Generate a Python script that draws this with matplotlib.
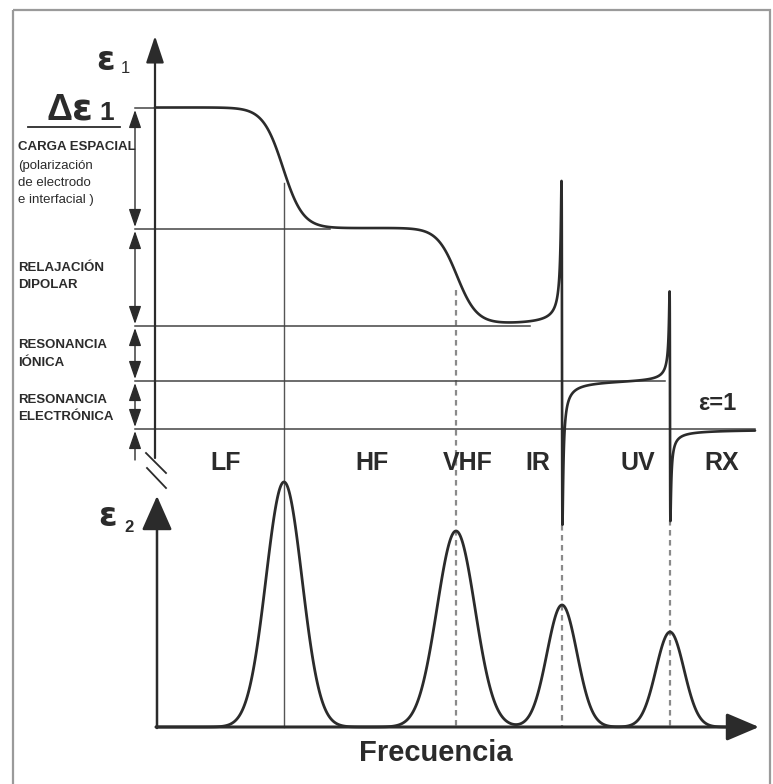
import numpy as np
import matplotlib
matplotlib.use("Agg")
import matplotlib.pyplot as plt
from matplotlib import font_manager
from matplotlib.patches import Rectangle

plt.rcParams["path.simplify"] = False

# --- diagram values (y measured downward, like the drawing) ---
levels = [108, 229, 326, 381, 429]          # eps1 plateaus, last one is eps=1
relax_x = [283, 457]                        # space charge / dipolar relaxation centres
relax_w = [20, 20]
reso_x = [562, 670]                         # ionic / electronic resonances
reso_s = [144, 80]
reso_g = [0.456, 0.39]
guide_end = [155, 330, 530, 665, 755]       # where the plateau guide lines stop

peak_x = [284, 456, 562, 670]               # eps2 loss peaks
peak_h = [245, 196, 122, 95]
peak_w = [18, 19, 15, 14]
drop_top = [183, 290, 525, 520]
drop_style = ["-", "--", "--", "--"]

bands = ["LF", "HF", "VHF", "IR", "UV", "RX"]
band_x = [226, 372, 468, 538, 638, 722]

left_labels = [
    ("CARGA ESPACIAL", 147, "bold"), ("(polarización", 166, "normal"),
    ("de electrodo", 183, "normal"), ("e interfacial )", 200, "normal"),
    ("RELAJACIÓN", 268, "bold"), ("DIPOLAR", 285, "bold"),
    ("RESONANCIA", 345, "bold"), ("IÓNICA", 363, "bold"),
    ("RESONANCIA", 400, "bold"), ("ELECTRÓNICA", 417, "bold"),
]

names = {f.name for f in font_manager.fontManager.ttflist}
narrow = "Liberation Sans Narrow" if "Liberation Sans Narrow" in names else "Liberation Sans"
FAM = ["Liberation Sans", "DejaVu Sans"]
NFAM = [narrow, "Liberation Sans", "DejaVu Sans"]
GFAM = ["DejaVu Sans"]
INK = "#2b2b2b"

fig = plt.figure(figsize=(7.73, 7.84), dpi=100)
ax = fig.add_axes([0, 0, 1, 1])
ax.set_xlim(0, 773)
ax.set_ylim(784, 0)
ax.axis("off")

ax.add_patch(Rectangle((13, 10), 757, 785, fill=False, ec="#9a9a9a", lw=1.6))

# --- eps1 curve ---
x = np.linspace(155, 755, 60001)
y = np.full_like(x, levels[0], dtype=float)
for i, (c, w) in enumerate(zip(relax_x, relax_w)):
    y += (levels[i + 1] - levels[i]) * 0.5 * (1 + np.tanh((x - c) / w))
for j, (c, s, g) in enumerate(zip(reso_x, reso_s, reso_g)):
    step = levels[j + 3] - levels[j + 2]
    y += step * (0.5 + np.arctan((x - c) / g) / np.pi)
    y += s * (x - c) / ((x - c) ** 2 + g ** 2)
ax.plot(x, y, color=INK, lw=1.9, solid_capstyle="round", zorder=3)

for lv, xe in zip(levels, guide_end):
    ax.plot([135, xe], [lv, lv], color="#444444", lw=1.1, zorder=2)

# eps1 axis with break marks
ax.annotate("", xy=(155, 36), xytext=(155, 458),
            arrowprops=dict(arrowstyle="-|>,head_length=1.65,head_width=0.55",
                            mutation_scale=10, color=INK, lw=1.6,
                            shrinkA=0, shrinkB=0))
ax.plot([146, 166], [453, 473], color=INK, lw=1.3)
ax.plot([147, 166], [468, 488], color=INK, lw=1.3)

# double arrows for each contribution
for a, b in zip(levels[:-1], levels[1:]):
    ax.annotate("", xy=(135, a + 2), xytext=(135, b - 2),
                arrowprops=dict(arrowstyle="<|-|>,head_length=1.1,head_width=0.38",
                                mutation_scale=10, color=INK, lw=1.0,
                                shrinkA=0, shrinkB=0))
ax.annotate("", xy=(135, levels[-1] + 2), xytext=(135, 460),
            arrowprops=dict(arrowstyle="-|>,head_length=1.1,head_width=0.38",
                            mutation_scale=10, color=INK, lw=1.0,
                            shrinkA=0, shrinkB=0))

ax.text(96, 60, "ε", fontsize=24, fontweight="bold", family=GFAM, color=INK,
        ha="left", va="center")
ax.text(121, 68, "1", fontsize=12, family=FAM, color=INK, ha="left", va="center")
ax.text(46, 120, "Δ", fontsize=26, fontweight="bold", family=FAM, color=INK,
        ha="left", va="baseline")
ax.text(72, 120, "ε", fontsize=27, fontweight="bold", family=GFAM, color=INK,
        ha="left", va="baseline")
ax.text(99, 120, "1", fontsize=19, fontweight="bold", family=FAM, color=INK,
        ha="left", va="baseline")
ax.plot([28, 120], [127, 127], color=INK, lw=1.3)

for txt, ty, wt in left_labels:
    ax.text(18, ty, txt, fontsize=9.5, fontweight=wt,
            family=FAM, color=INK, ha="left", va="center")

for b, bx in zip(bands, band_x):
    ax.text(bx, 463, b, fontsize=18, fontweight="bold", family=NFAM, color=INK,
            ha="center", va="center")
ax.text(717, 403, "ε=1", fontsize=17, fontweight="bold", family=NFAM, color=INK,
        ha="center", va="center")

# --- eps2 panel ---
base = 727
ax.annotate("", xy=(157, 496), xytext=(157, base + 1),
            arrowprops=dict(arrowstyle="-|>,head_length=2.15,head_width=0.95",
                            mutation_scale=10, color=INK, lw=1.8,
                            shrinkA=0, shrinkB=0))
ax.annotate("", xy=(759, base), xytext=(156, base),
            arrowprops=dict(arrowstyle="-|>,head_length=2.0,head_width=0.85",
                            mutation_scale=10, color=INK, lw=2.2,
                            shrinkA=0, shrinkB=0))

xs = np.linspace(157, 740, 4000)
ys = np.full_like(xs, float(base))
for c, h, w in zip(peak_x, peak_h, peak_w):
    ys -= h * np.exp(-0.5 * ((xs - c) / w) ** 2)
ax.plot(xs, ys, color=INK, lw=2.0, zorder=3)

for c, t, ls in zip(peak_x, drop_top, drop_style):
    if ls == "-":
        ax.plot([c, c], [t, base], color="#555555", lw=1.0, zorder=1)
    else:
        ax.plot([c, c], [t, base], color="#8a8a8a", lw=1.6, ls=(0, (2.5, 2)), zorder=1)

ax.text(98, 517, "ε", fontsize=24, fontweight="bold", family=GFAM, color=INK,
        ha="left", va="center")
ax.text(124, 528, "2", fontsize=12, fontweight="bold", family=FAM, color=INK,
        ha="left", va="center")
ax.text(436, 753, "Frecuencia", fontsize=21, fontweight="bold", family=NFAM,
        color=INK, ha="center", va="center")

fig.savefig("out.png", dpi=100)
